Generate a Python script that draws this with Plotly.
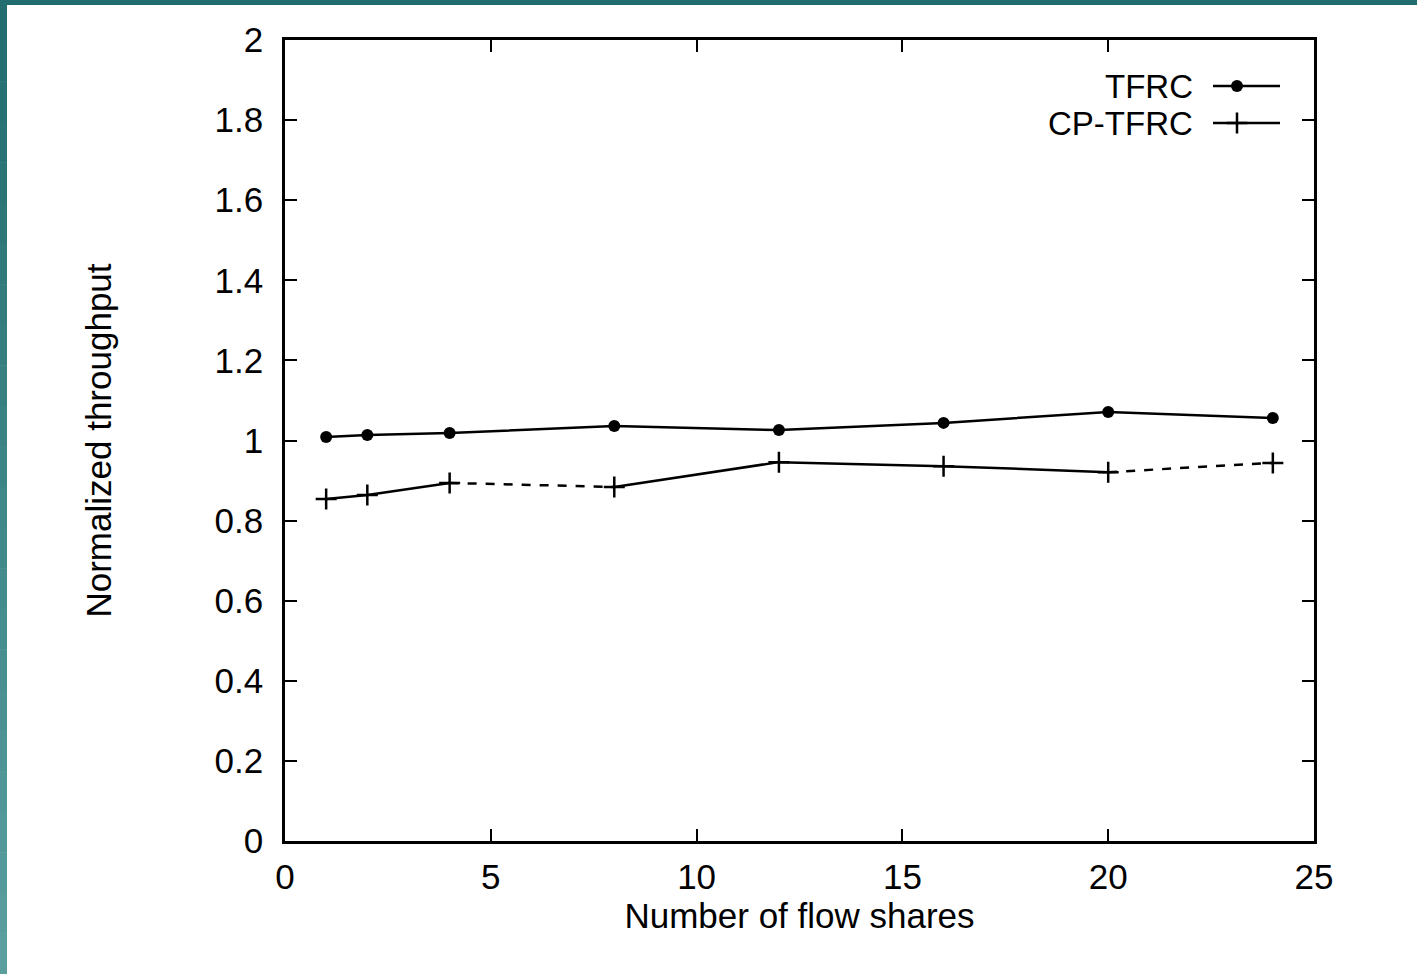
import plotly.graph_objects as go

flow_shares = [1, 2, 4, 8, 12, 16, 20, 24]
tfrc = [1.009, 1.014, 1.019, 1.036, 1.026, 1.044, 1.071, 1.056]
cp_tfrc = [0.854, 0.864, 0.894, 0.884, 0.946, 0.936, 0.921, 0.944]
series_names = ["TFRC", "CP-TFRC"]
x_ticks = [0, 5, 10, 15, 20, 25]
y_ticks = [0, 0.2, 0.4, 0.6, 0.8, 1, 1.2, 1.4, 1.6, 1.8, 2]
y_tick_text = ["0", "0.2", "0.4", "0.6", "0.8", "1", "1.2", "1.4", "1.6", "1.8", "2"]

FONT = "Liberation Sans, Arial, Helvetica, sans-serif"
W, H = 1417, 974
L, R, T, B = 285, 103, 40, 133
LW = 2.5

fig = go.Figure()

# TFRC: solid line with filled circles
fig.add_trace(go.Scatter(x=flow_shares, y=tfrc, mode="lines+markers",
                         line=dict(color="black", width=LW),
                         marker=dict(symbol="circle", size=12, color="black"),
                         showlegend=False))

# CP-TFRC: solid line with some dashed segments (as in the scanned original)
for a, b in [(0, 3), (3, 7)]:
    fig.add_trace(go.Scatter(x=flow_shares[a:b], y=cp_tfrc[a:b], mode="lines",
                             line=dict(color="black", width=LW), showlegend=False))
for a, b in [(2, 4), (6, 8)]:
    fig.add_trace(go.Scatter(x=flow_shares[a:b], y=cp_tfrc[a:b], mode="lines",
                             line=dict(color="black", width=LW, dash="dash"),
                             showlegend=False))
fig.add_trace(go.Scatter(x=flow_shares, y=cp_tfrc, mode="markers",
                         marker=dict(symbol="cross-thin", size=15,
                                     line=dict(color="black", width=LW)),
                         showlegend=False))

pw, ph = W - L - R, H - T - B
def px2x(px):
    return (px - L) / pw
def py2y(py):
    return (H - B - py) / ph

# Legend samples drawn on an overlay 0..1 axis
leg_y = [py2y(86), py2y(123)]
leg_x0, leg_x1, leg_mx = px2x(1213), px2x(1280), px2x(1237)
fig.add_trace(go.Scatter(x=[leg_x0, leg_x1], y=[leg_y[0]] * 2, mode="lines",
                         line=dict(color="black", width=LW), xaxis="x2", yaxis="y2",
                         showlegend=False))
fig.add_trace(go.Scatter(x=[leg_mx], y=[leg_y[0]], mode="markers",
                         marker=dict(symbol="circle", size=12, color="black"),
                         xaxis="x2", yaxis="y2", showlegend=False))
fig.add_trace(go.Scatter(x=[leg_x0, leg_x1], y=[leg_y[1]] * 2, mode="lines",
                         line=dict(color="black", width=LW), xaxis="x2", yaxis="y2",
                         showlegend=False))
fig.add_trace(go.Scatter(x=[leg_mx], y=[leg_y[1]], mode="markers",
                         marker=dict(symbol="cross-thin", size=15,
                                     line=dict(color="black", width=LW)),
                         xaxis="x2", yaxis="y2", showlegend=False))

annotations = []
for name, yy in zip(series_names, leg_y):
    annotations.append(dict(x=px2x(1194), y=yy, xref="paper", yref="paper", text=name,
                            showarrow=False, xanchor="right", yanchor="middle",
                            height=32, borderpad=0,
                            font=dict(family=FONT, size=33, color="black")))

# Teal frame (top and left strips) from the slide background
shapes = []
shapes.append(dict(type="rect", xref="paper", yref="paper",
                   x0=px2x(0), x1=px2x(W), y0=py2y(5), y1=py2y(0),
                   fillcolor="rgb(32,108,110)", line=dict(width=0), layer="above"))
n = 24
c0 = (32, 108, 110)
c1 = (92, 160, 160)
for i in range(n):
    ya = H * i / n
    yb = H * (i + 1) / n
    t = (i + 0.5) / n
    c = tuple(int(c0[k] + (c1[k] - c0[k]) * t) for k in range(3))
    shapes.append(dict(type="rect", xref="paper", yref="paper",
                       x0=px2x(0), x1=px2x(7), y0=py2y(yb + 0.5), y1=py2y(ya),
                       fillcolor="rgb(%d,%d,%d)" % c, line=dict(width=0), layer="above"))

axis_common = dict(showgrid=False, zeroline=False, showline=True, linecolor="black",
                   linewidth=2.5, mirror="ticks", ticks="inside", ticklen=12,
                   tickwidth=2, tickcolor="black",
                   tickfont=dict(family=FONT, size=35, color="black"))

fig.update_layout(
    width=W, height=H,
    margin=dict(l=L, r=R, t=T, b=B, autoexpand=False),
    paper_bgcolor="white", plot_bgcolor="white",
    xaxis=dict(range=[0, 25], tickvals=x_ticks, ticktext=[str(v) for v in x_ticks],
               ticklabelstandoff=3,
               title=dict(text="Number of flow shares", standoff=3,
                          font=dict(family=FONT, size=35, color="black")),
               automargin=False, **axis_common),
    yaxis=dict(range=[0, 2], tickvals=y_ticks, ticktext=y_tick_text,
               ticklabelstandoff=12,
               title=dict(text="Normalized throughput", standoff=93,
                          font=dict(family=FONT, size=35, color="black")),
               automargin=False, **axis_common),
    xaxis2=dict(range=[0, 1], overlaying="x", visible=False, domain=[0, 1]),
    yaxis2=dict(range=[0, 1], overlaying="y", visible=False, domain=[0, 1]),
    annotations=annotations,
    shapes=shapes,
    showlegend=False,
)

fig.write_html("out.html", config={"displayModeBar": False},
               post_script="document.body.style.margin='0';document.body.style.overflow='hidden';")
